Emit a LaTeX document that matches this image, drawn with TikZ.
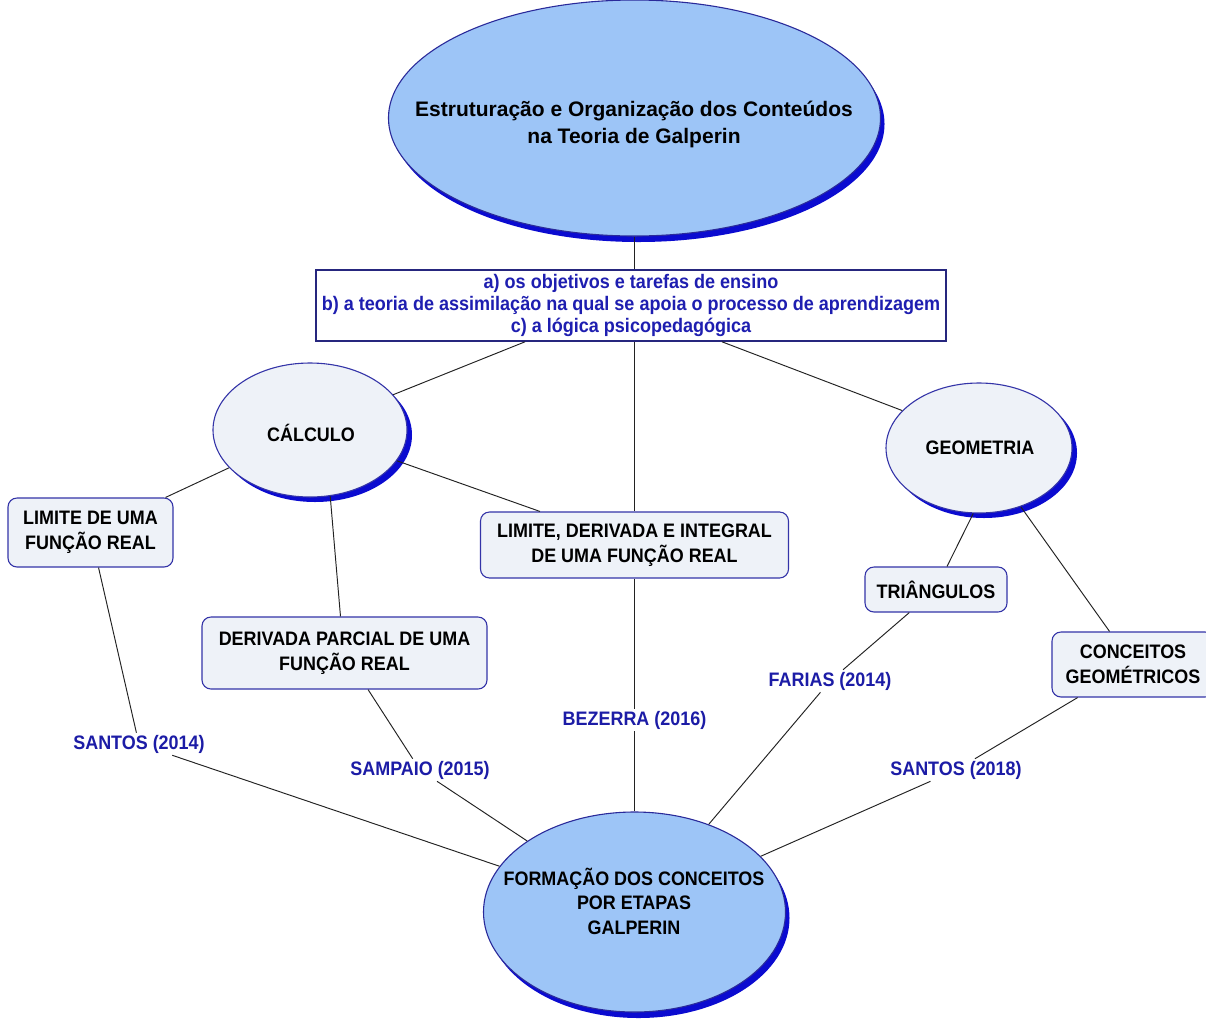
\documentclass[tikz,border=0pt]{standalone}
\usepackage{fontspec}
\setmainfont{Liberation Sans}[FakeStretch=0.92]
\newfontfamily\titlefont{Liberation Sans}
\usetikzlibrary{shapes.geometric,shadows}

\definecolor{bigfill}{HTML}{9DC5F7}
\definecolor{bigborder}{HTML}{2A2A9A}
\definecolor{shadowblue}{HTML}{0B0BD0}
\definecolor{smallfill}{HTML}{EEF2F8}
\definecolor{smallborder}{HTML}{3434A8}
\definecolor{listborder}{HTML}{26267E}
\definecolor{listtext}{HTML}{1E1EB0}
\definecolor{refblue}{HTML}{1C1CA6}
\definecolor{linegray}{HTML}{222222}

\tikzset{
  bigell/.style={ellipse, draw=bigborder, fill=bigfill, line width=1.1pt, inner sep=0pt,
    drop shadow={shadow xshift=4pt, shadow yshift=-6pt, fill=shadowblue, opacity=1}},
  smallell/.style={ellipse, draw=smallborder, fill=smallfill, line width=1.1pt, inner sep=0pt,
    drop shadow={shadow xshift=5pt, shadow yshift=-5pt, fill=shadowblue, opacity=1}},
  ideabox/.style={rectangle, rounded corners=9pt, draw=smallborder, fill=smallfill, line width=1.1pt,
    align=center, inner sep=0pt, font=\fontsize{19.5}{25}\selectfont\bfseries},
  elltext/.style={align=center, inner sep=0pt, font=\fontsize{19.5}{24.5}\selectfont\bfseries},
  listbox/.style={rectangle, draw=listborder, fill=white, line width=1.6pt, align=center,
    inner sep=0pt, text=listtext, font=\fontsize{19.6}{22}\selectfont\bfseries},
  reflabel/.style={inner sep=2pt, text=refblue, font=\fontsize{19.5}{20}\selectfont\bfseries},
  link/.style={draw=linegray, line width=0.95pt}
}

\begin{document}
\begin{tikzpicture}[x=1pt, y=-1pt]
\useasboundingbox (0,0) rectangle (1206,1018);
\fill[white] (0,0) rectangle (1206,1018);

% central theme at the top
\node[bigell, minimum width=492pt, minimum height=236pt] (top) at (634.5,118) {};
\node[elltext, font=\titlefont\fontsize{21}{27}\selectfont\bfseries] (toptext) at (634,124)
  {Estruturação e Organização dos Conteúdos\\na Teoria de Galperin};

% list of criteria
\node[listbox, minimum width=630pt, minimum height=71pt] (tb) at (631,305.5)
  {a) os objetivos e tarefas de ensino\\
   b) a teoria de assimilação na qual se apoia o processo de aprendizagem\\
   c) a lógica psicopedagógica};

% subject areas
\node[smallell, minimum width=194pt, minimum height=134pt] (calc) at (310,430) {};
\node[elltext] (calctext) at (311,433) {CÁLCULO};
\node[smallell, minimum width=186pt, minimum height=130pt] (geo) at (979,448) {};
\node[elltext] (geotext) at (980,448) {GEOMETRIA};

% topics
\node[ideabox, minimum width=165pt, minimum height=69pt] (lim) at (90.5,532.5)
  {LIMITE DE UMA\\FUNÇÃO REAL};
\node[ideabox, minimum width=285pt, minimum height=72pt] (dp) at (344.5,653)
  {DERIVADA PARCIAL DE UMA\\FUNÇÃO REAL};
\node[ideabox, minimum width=308pt, minimum height=66pt] (ldi) at (634.5,545)
  {LIMITE, DERIVADA E INTEGRAL\\DE UMA FUNÇÃO REAL};
\node[ideabox, minimum width=142pt, minimum height=45pt] (tri) at (936,589.5)
  {TRIÂNGULOS};
\node[ideabox, minimum width=162pt, minimum height=65pt, text width=162pt] (cg) at (1133,664.5)
  {CONCEITOS\\GEOMÉTRICOS\hspace*{6pt}};

% concluding theme
\node[bigell, minimum width=302pt, minimum height=200pt] (bot) at (634.5,912) {};
\node[elltext] (bottext) at (634,901)
  {FORMAÇÃO DOS CONCEITOS\\POR ETAPAS\\GALPERIN};

% references
\node[reflabel] (s14) at (139,744) {SANTOS (2014)};
\node[reflabel] (sam) at (420,770) {SAMPAIO (2015)};
\node[reflabel] (bez) at (634.5,720) {BEZERRA (2016)};
\node[reflabel] (far) at (830,681) {FARIAS (2014)};
\node[reflabel] (s18) at (956,770) {SANTOS (2018)};

% connectors
\path[link] (top.south) -- (top.south |- tb.north);
\path[link] ([xshift=-106pt]tb.south) -- (calc.23);
\path[link] ([xshift=91pt]tb.south) -- (geo.154);
\path[link] (ldi.north |- tb.south) -- (ldi.north);

\path[link] (calc) -- (lim);
\path[link] (calc.-73) -- ([xshift=-4pt]dp.north);
\path[link] (calc) -- (ldi);
\path[link] (geo.-95) -- ([xshift=11pt]tri.north);
\path[link] (geo) -- (cg);

\path[link] (lim) -- (s14);
\path[link] (s14) -- (bot);
\path[link] (dp) -- (sam);
\path[link] (sam) -- (bot);
\path[link] (ldi) -- (bez);
\path[link] (bez) -- (bot);
\path[link] (tri) -- (far);
\path[link] (far) -- (bot);
\path[link] (cg) -- (s18);
\path[link] (s18) -- (bot);
\end{tikzpicture}
\end{document}
